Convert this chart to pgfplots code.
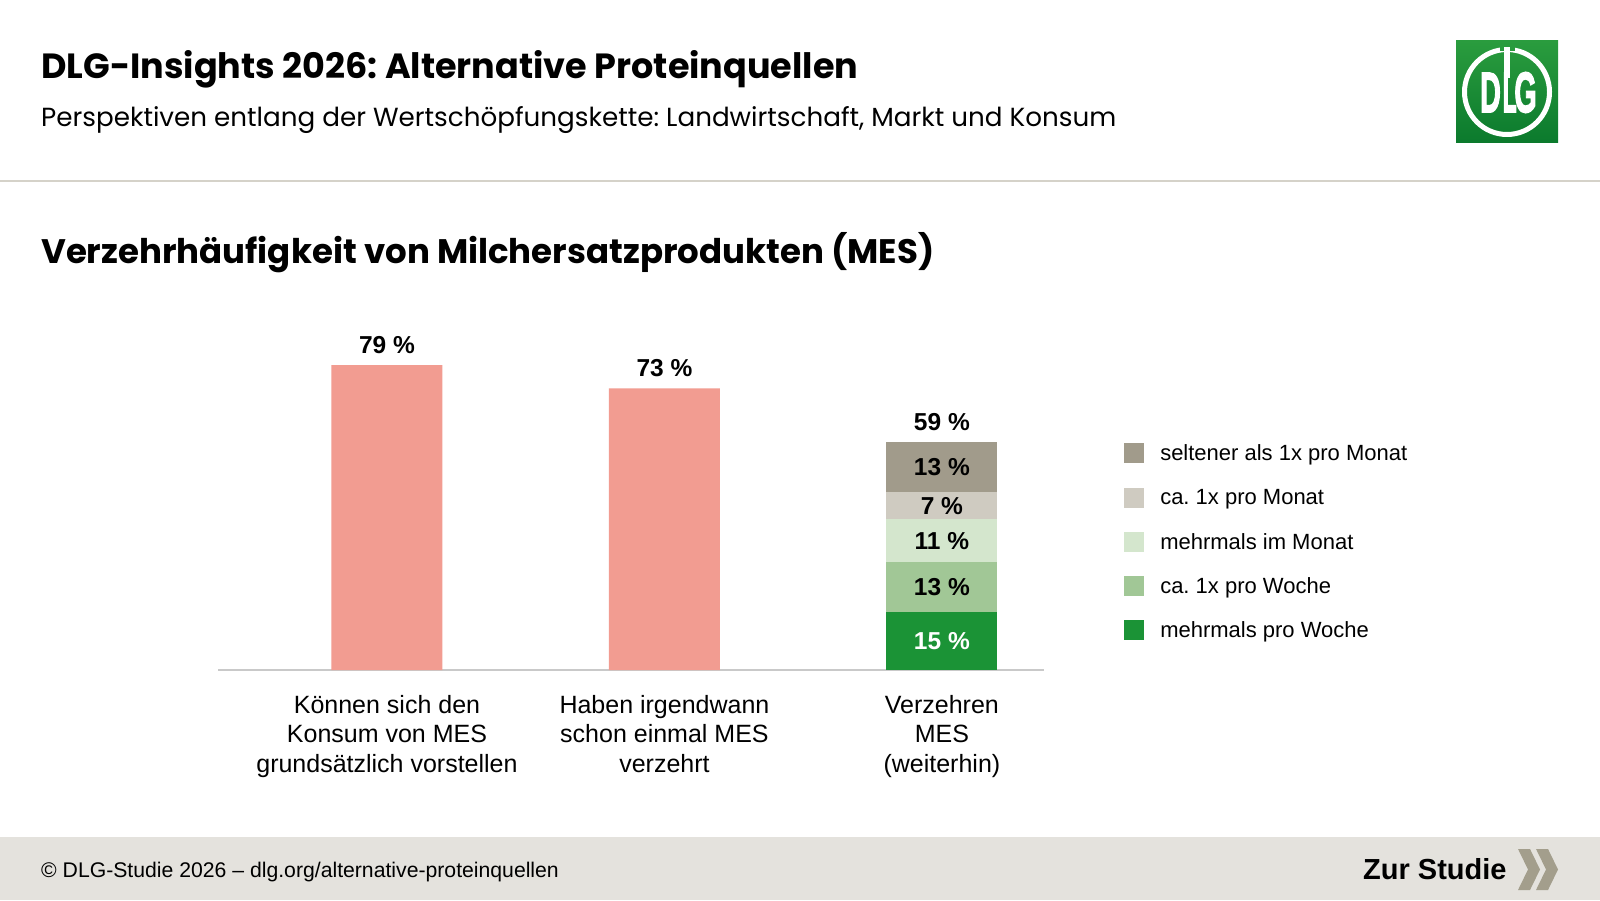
\documentclass[border=0pt]{standalone}
\usepackage{pgfplots}
\pgfplotsset{compat=1.18}
\usepackage{fontspec}
\setmainfont{Liberation Sans}
\newfontfamily\headfont{Poppins}
\newfontfamily\logofont[FakeBold=3]{Liberation Sans Bold}
\definecolor{pinkbar}{HTML}{F29C91}
\definecolor{cSelten}{HTML}{A19B8B}
\definecolor{cMonat}{HTML}{CFCBC1}
\definecolor{cMehrMonat}{HTML}{D4E6CD}
\definecolor{cWoche}{HTML}{A1C796}
\definecolor{cMehrWoche}{HTML}{1B9336}
\definecolor{footerbg}{HTML}{E4E2DD}
\definecolor{rulecol}{HTML}{D5D2C9}
\definecolor{chev}{HTML}{A39E8C}
\definecolor{logoLight}{HTML}{2A9C3E}
\definecolor{logoDark}{HTML}{0B7A2D}
\definecolor{axisgrey}{HTML}{C9C9C9}
\begin{document}
\frenchspacing
\begin{tikzpicture}
\fill[white] (0pt,0pt) rectangle (1600pt,900pt);
\useasboundingbox (0pt,0pt) rectangle (1600pt,900pt);
% header
\node[anchor=base west, inner sep=0pt] at (41pt,821pt) {\headfont\bfseries\fontsize{35}{40}\selectfont DLG-Insights 2026: Alternative Proteinquellen};
\node[anchor=base west, inner sep=0pt] at (41pt,773pt) {\headfont\fontsize{26.2}{30}\selectfont Perspektiven entlang der Wertschöpfungskette: Landwirtschaft, Markt und Konsum};
\draw[rulecol, line width=1.5pt] (0pt,719pt) -- (1600pt,719pt);
\node[anchor=base west, inner sep=0pt] at (41pt,636pt) {\headfont\bfseries\fontsize{34}{40}\selectfont Verzehrhäufigkeit von Milchersatzprodukten (MES)};
% logo
\shade[top color=logoLight, bottom color=logoDark] (1456pt,757pt) rectangle (1558pt,859pt);
\draw[white, line width=5pt] (1507pt,808pt) circle (42.5pt);
\fill[logoLight!96!logoDark] (1500pt,849pt) rectangle (1515pt,857pt);
\node[white, inner sep=0pt] at (1490.5pt,807.5pt) {\scalebox{0.5}[1]{\logofont\fontsize{57}{60}\selectfont D}};
\node[white, inner sep=0pt, anchor=west] at (1502.5pt,807.5pt) {\scalebox{0.4}[1]{\logofont\fontsize{57}{60}\selectfont L}};
\node[white, inner sep=0pt] at (1525.5pt,807.5pt) {\scalebox{0.5}[1]{\logofont\fontsize{57}{60}\selectfont G}};
\fill[white] (1504pt,822pt) rectangle (1509.5pt,853pt);
% footer
\fill[footerbg] (0pt,0pt) rectangle (1600pt,63pt);
\node[anchor=base west, inner sep=0pt] at (41pt,23pt) {\fontsize{21.2}{24}\selectfont © DLG-Studie 2026 – dlg.org/alternative-proteinquellen};
\node[anchor=base west, inner sep=0pt] at (1363pt,21pt) {\fontsize{29}{32}\selectfont\bfseries Zur Studie};
\fill[chev] (1518pt,51pt) -- (1530pt,51pt) -- (1540pt,30.5pt) -- (1530pt,10pt) -- (1518pt,10pt) -- (1528pt,30.5pt) -- cycle;
\fill[chev] (1536pt,51pt) -- (1548pt,51pt) -- (1558pt,30.5pt) -- (1548pt,10pt) -- (1536pt,10pt) -- (1546pt,30.5pt) -- cycle;
% pink bars axis
\begin{axis}[
  at={(218pt,230pt)}, anchor=south west,
  scale only axis, width=826pt, height=385.9pt,
  xmin=-0.609, xmax=2.368, ymin=0, ymax=100,
  ybar, bar width=111pt, bar shift=0pt,
  axis x line*=bottom, axis y line=none,
  x axis line style={axisgrey, line width=1.2pt, -},
  xtick={0,1,2}, major tick length=0pt,
  xticklabels={{Können sich den\\Konsum von MES\\grundsätzlich vorstellen},{Haben irgendwann\\schon einmal MES\\verzehrt},{Verzehren\\MES\\(weiterhin)}},
  xticklabel style={align=center, inner sep=0pt, yshift=-25pt, font=\fontsize{25}{29.6}\selectfont},
  /pgf/number format/assume math mode=true,
  nodes near coords={\pgfmathprintnumber{\pgfplotspointmeta} \%},
  every node near coord/.append style={anchor=base, inner sep=0pt, yshift=12pt, font=\fontsize{24.5}{28}\selectfont\bfseries, text=black},
  clip=false,
]
\addplot[fill=pinkbar, draw=none] coordinates {(0,79) (1,73)};
\addplot[fill=none, draw=none] coordinates {(2,59)};
\end{axis}
% stacked bar axis
\begin{axis}[
  at={(218pt,230pt)}, anchor=south west,
  scale only axis, width=826pt, height=385.9pt,
  xmin=-0.609, xmax=2.368, ymin=0, ymax=100,
  ybar stacked, bar width=111pt,
  hide axis, clip=false,
  /pgf/number format/assume math mode=true,
  nodes near coords={\pgfmathprintnumber{\pgfplotspointmeta} \%},
  every node near coord/.append style={anchor=center, inner sep=0pt, font=\fontsize{24.5}{28}\selectfont\bfseries, text=black},
  reverse legend,
  legend cell align=left,
  legend image code/.code={\fill[#1] (0pt,-10pt) rectangle (20pt,10pt);},
  legend style={at={(1.0969,0.588)}, anchor=north west, draw=none, fill=none, inner sep=0pt, row sep=24.3pt, column sep=16pt, font=\fontsize{22}{26}\selectfont, nodes={inner sep=0pt}},
]
\addplot[fill=cMehrWoche, draw=none, every node near coord/.append style={text=white}] coordinates {(2,15)};
\addlegendentry{mehrmals pro Woche}
\addplot[fill=cWoche, draw=none] coordinates {(2,13)};
\addlegendentry{ca. 1x pro Woche}
\addplot[fill=cMehrMonat, draw=none] coordinates {(2,11)};
\addlegendentry{mehrmals im Monat}
\addplot[fill=cMonat, draw=none] coordinates {(2,7)};
\addlegendentry{ca. 1x pro Monat}
\addplot[fill=cSelten, draw=none] coordinates {(2,13)};
\addlegendentry{seltener als 1x pro Monat}
\end{axis}
\end{tikzpicture}
\end{document}
